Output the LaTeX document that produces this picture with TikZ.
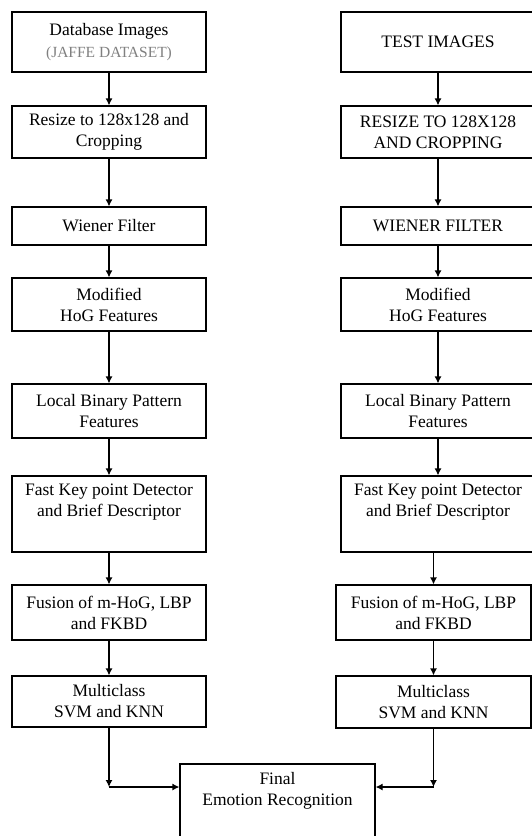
\documentclass[tikz,border=0pt]{standalone}
\usepackage{fontspec}
\setmainfont{Liberation Serif}
\usetikzlibrary{arrows.meta}
\definecolor{notegray}{rgb}{0.5,0.5,0.5}
\tikzset{
    box/.style={draw, line width=1.2pt, align=center, minimum width=194pt, inner sep=0pt,
        font=\fontsize{17.5}{21}\selectfont},
    arr/.style={line width=1.2pt, -{Latex[length=7pt,width=7pt]}}
}
\begin{document}
\begin{tikzpicture}[x=1pt, y=-1pt]
            \useasboundingbox (0, 0) rectangle (532, 836);
            \node[box, minimum height=60pt] (dbl) at (109, 42) {Database Images\\[1pt]{\fontsize{15.5}{17}\selectfont\color{notegray}(JAFFE DATASET)}};
            \node[box, minimum height=52pt] (rsl) at (109, 132) {Resize to 128x128 and\\Cropping};
            \node[box, minimum height=38pt] (wfl) at (109, 226) {Wiener Filter};
            \node[box, minimum height=53pt] (hgl) at (109, 304.5) {Modified\\HoG Features};
            \node[box, minimum height=54pt] (lbl) at (109, 411) {Local Binary Pattern\\Features};
            \node[box, minimum height=76pt] (fkl) at (109, 514) {Fast Key point Detector\\and Brief Descriptor\\\strut};
            \node[box, minimum height=55pt] (ful) at (109, 612.5) {Fusion of m-HoG, LBP\\and FKBD};
            \node[box, minimum height=51pt] (mcl) at (109, 701.5) {Multiclass\\SVM and KNN};
            \node[box, minimum height=60pt] (dbr) at (438, 42) {TEST IMAGES};
            \node[box, minimum height=52pt] (rsr) at (438, 132) {RESIZE TO 128X128\\AND CROPPING};
            \node[box, minimum height=38pt] (wfr) at (438, 226) {WIENER FILTER};
            \node[box, minimum height=53pt] (hgr) at (438, 304.5) {Modified\\HoG Features};
            \node[box, minimum height=54pt] (lbr) at (438, 411) {Local Binary Pattern\\Features};
            \node[box, minimum height=76pt] (fkr) at (438, 514) {Fast Key point Detector\\and Brief Descriptor\\\strut};
            \node[box, minimum width=195pt, minimum height=55pt] (fur) at (433.5, 612.5) {Fusion of m-HoG, LBP\\and FKBD};
            \node[box, minimum width=195pt, minimum height=52pt] (mcr) at (433.5, 702) {Multiclass\\SVM and KNN};
            \node[box, minimum width=195pt, minimum height=80pt] (fin) at (277.5, 804) {Final\\Emotion Recognition\\[2pt]\strut};
            \coordinate (jl) at (109, 787);
            \coordinate (jr) at (433.5, 787);
            \draw[arr] (dbl) -- (rsl);
            \draw[arr] (rsl) -- (wfl);
            \draw[arr] (wfl) -- (hgl);
            \draw[arr] (hgl) -- (lbl);
            \draw[arr] (lbl) -- (fkl);
            \draw[arr] (fkl) -- (ful);
            \draw[arr] (ful) -- (mcl);
            \draw[arr] (dbr) -- (rsr);
            \draw[arr] (rsr) -- (wfr);
            \draw[arr] (wfr) -- (hgr);
            \draw[arr] (hgr) -- (lbr);
            \draw[arr] (lbr) -- (fkr);
            \draw[arr] (fur.north |- fkr.south) -- (fur);
            \draw[arr] (fur) -- (mcr);
            \draw[arr] (mcl) -- (jl);
            \draw[arr] (jl) -- (jl -| fin.west);
            \draw[arr] (mcr) -- (jr);
            \draw[arr] (jr) -- (jr -| fin.east);
        \end{tikzpicture}
\end{document}
